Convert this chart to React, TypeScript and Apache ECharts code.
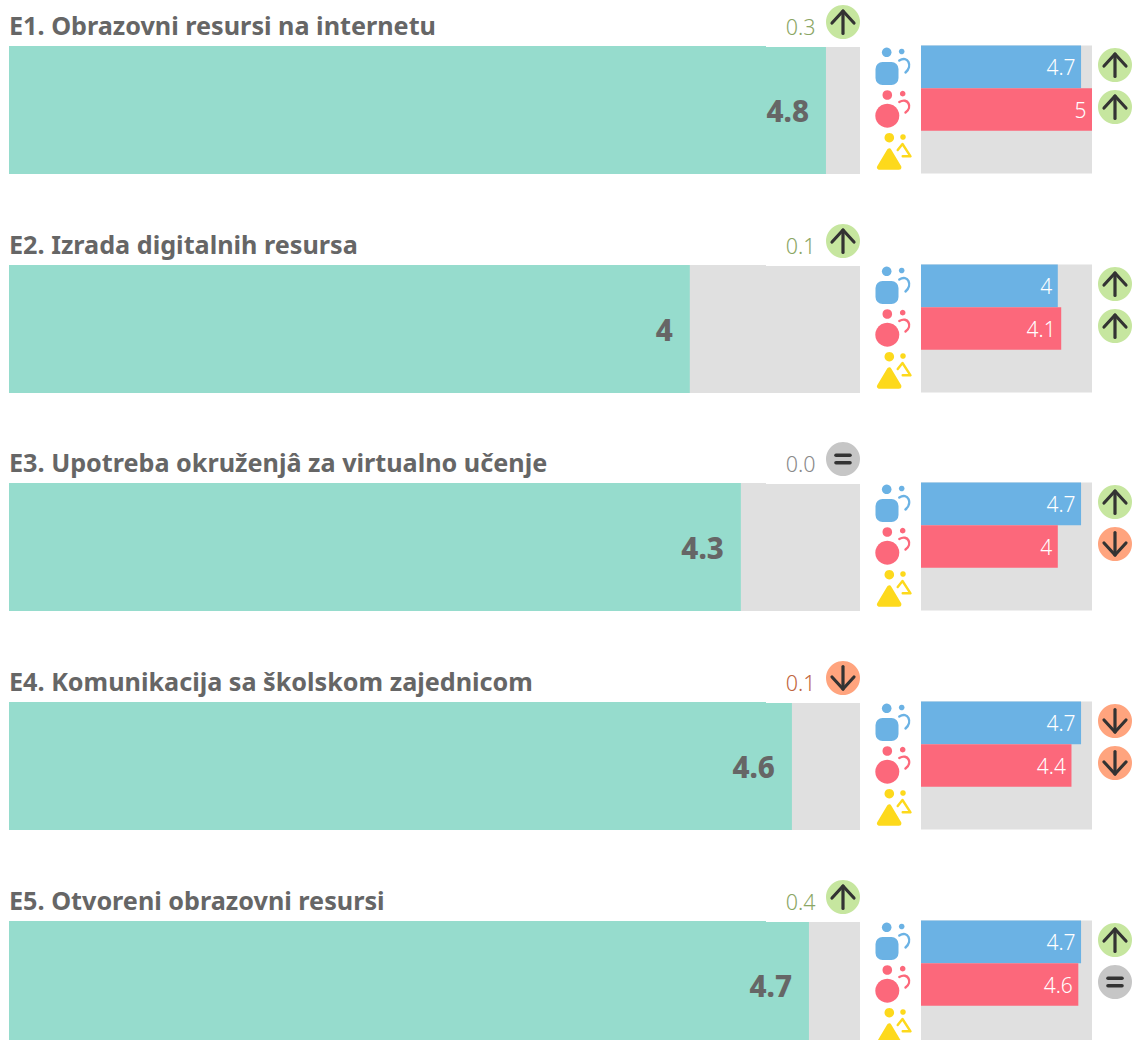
import React, { useEffect, useRef } from "react";
import * as echarts from "echarts";

const titles = [
  "E1. Obrazovni resursi na internetu",
  "E2. Izrada digitalnih resursa",
  "E3. Upotreba okruženjâ za virtualno učenje",
  "E4. Komunikacija sa školskom zajednicom",
  "E5. Otvoreni obrazovni resursi",
];
const overall = [4.8, 4, 4.3, 4.6, 4.7];
const changeLabels = ["0.3", "0.1", "0.0", "0.1", "0.4"];
const overallTrend = ["up", "up", "equal", "down", "up"];
const blueValues = [4.68, 4, 4.68, 4.68, 4.68];
const redValues = [5, 4.1, 4, 4.4, 4.6];
const yellowValues: (number | null)[] = [null, null, null, null, null];
const blueTrend = ["up", "up", "up", "down", "up"];
const redTrend = ["up", "up", "down", "down", "equal"];
const groups = ["blue", "red", "yellow"];
const AXIS_MAX = 5;

const PANEL_TOPS = [46, 265, 483, 702, 921];
const FONT = "'Noto Sans', sans-serif";
const GREY = "#e0e0e0";
const TEAL = "#96dccd";
const BLUE = "#6bb2e4";
const RED = "#fc687b";
const YELLOW = "#fdd91c";
const DARK = "#333333";
const TITLE = "#666666";

const trendFill: Record<string, string> = { up: "#c6e69f", down: "#ffa47e", equal: "#c6c6c6" };
const trendText: Record<string, string> = { up: "#8ba664", down: "#bf6640", equal: "#8a8a8a" };

const shortLabel = (p: any) => (p.value == null ? "" : String(Math.round(p.value * 10) / 10));

function trendIcon(kind: string, x: number, y: number) {
  const line = { stroke: DARK, lineWidth: 3.2, lineCap: "round", lineJoin: "round", fill: "none" };
  let marks: any[];
  if (kind === "up") {
    marks = [
      { type: "line", shape: { x1: 0, y1: 11.5, x2: 0, y2: -11 }, style: line },
      { type: "polyline", shape: { points: [[-11, 1], [0, -11], [11, 1]] }, style: line },
    ];
  } else if (kind === "down") {
    marks = [
      { type: "line", shape: { x1: 0, y1: -11.5, x2: 0, y2: 11 }, style: line },
      { type: "polyline", shape: { points: [[-11, -1], [0, 11], [11, -1]] }, style: line },
    ];
  } else {
    const eq = { ...line, lineWidth: 3.6 };
    marks = [
      { type: "line", shape: { x1: -7, y1: -3.8, x2: 7, y2: -3.8 }, style: eq },
      { type: "line", shape: { x1: -7, y1: 3.8, x2: 7, y2: 3.8 }, style: eq },
    ];
  }
  return {
    type: "group",
    x,
    y,
    children: [{ type: "circle", shape: { cx: 0, cy: 0, r: 17 }, style: { fill: trendFill[kind] } }, ...marks],
  };
}

function peopleIcons(top: number) {
  const s = (c: string) => ({ stroke: c, lineWidth: 2.4, fill: "none", lineCap: "round", lineJoin: "round" });
  return {
    type: "group",
    x: 0,
    y: top - 46,
    children: [
      { type: "circle", shape: { cx: 886.7, cy: 52.3, r: 4.8 }, style: { fill: BLUE } },
      { type: "circle", shape: { cx: 901.7, cy: 51.5, r: 2.8 }, style: { fill: BLUE } },
      { type: "rect", shape: { x: 875.5, y: 62, width: 23, height: 23, r: 7 }, style: { fill: BLUE } },
      { type: "bezierCurve", shape: { x1: 899.3, y1: 60.5, cpx1: 908, cpy1: 55, cpx2: 913, cpy2: 66, x2: 905.5, y2: 72.5 }, style: s(BLUE) },

      { type: "circle", shape: { cx: 887.3, cy: 95, r: 4.8 }, style: { fill: RED } },
      { type: "circle", shape: { cx: 902.7, cy: 93.7, r: 2.8 }, style: { fill: RED } },
      { type: "circle", shape: { cx: 887.3, cy: 115.7, r: 12 }, style: { fill: RED } },
      { type: "bezierCurve", shape: { x1: 899.3, y1: 102, cpx1: 908, cpy1: 97, cpx2: 913, cpy2: 107, x2: 905.5, y2: 112.5 }, style: s(RED) },

      { type: "circle", shape: { cx: 889.3, cy: 137.7, r: 4.8 }, style: { fill: YELLOW } },
      { type: "circle", shape: { cx: 903, cy: 137, r: 2.8 }, style: { fill: YELLOW } },
      {
        type: "polygon",
        shape: { points: [[889.2, 151], [879.5, 167.3], [898.9, 167.3]] },
        style: { fill: YELLOW, stroke: YELLOW, lineWidth: 5, lineJoin: "round" },
      },
      { type: "polyline", shape: { points: [[897.7, 150], [902.5, 144], [910.5, 156.3], [902.7, 156.3]] }, style: s(YELLOW) },
    ],
  };
}

function buildOption() {
  const grid: any[] = [];
  const xAxis: any[] = [];
  const yAxis: any[] = [];
  const series: any[] = [];
  const graphic: any[] = [];

  const addPanel = (left: number, top: number, width: number, height: number, cats: string[], data: any[], label: any) => {
    const i = grid.length;
    grid.push({ left, top, width, height, show: true, backgroundColor: GREY, borderWidth: 0, containLabel: false });
    xAxis.push({ gridIndex: i, type: "value", min: 0, max: AXIS_MAX, show: false });
    yAxis.push({ gridIndex: i, type: "category", data: cats, inverse: true, show: false });
    series.push({
      type: "bar",
      xAxisIndex: i,
      yAxisIndex: i,
      barWidth: "100%",
      barGap: "0%",
      data,
      label,
      silent: true,
    });
  };

  PANEL_TOPS.forEach((top, r) => {
    addPanel(9, top, 851, 128, [titles[r]], [{ value: overall[r], itemStyle: { color: TEAL } }], {
      show: true,
      position: "insideRight",
      distance: 17,
      color: TITLE,
      fontFamily: FONT,
      fontWeight: 800,
      fontSize: 29.5,
    });
    addPanel(
      921,
      top - 0.5,
      171,
      128,
      groups,
      [
        { value: blueValues[r], itemStyle: { color: BLUE } },
        { value: redValues[r], itemStyle: { color: RED } },
        { value: yellowValues[r], itemStyle: { color: YELLOW } },
      ],
      {
        show: true,
        position: "insideRight",
        distance: 5.5,
        color: "#ffffff",
        fontFamily: FONT,
        fontWeight: 300,
        fontSize: 21,
        formatter: shortLabel,
      }
    );

    graphic.push({
      type: "text",
      x: 9,
      y: top - 21,
      style: { text: titles[r], fill: TITLE, font: `700 25.2px ${FONT}`, textVerticalAlign: "middle" },
    });
    graphic.push({
      type: "text",
      x: 815.5,
      y: top - 20,
      style: {
        text: changeLabels[r],
        fill: trendText[overallTrend[r]],
        font: `300 21.5px ${FONT}`,
        textAlign: "right",
        textVerticalAlign: "middle",
      },
    });
    graphic.push(trendIcon(overallTrend[r], 843, top - 24));
    graphic.push(trendIcon(blueTrend[r], 1115, top + 19));
    graphic.push(trendIcon(redTrend[r], 1115, top + 61));
    graphic.push(peopleIcons(top));
    graphic.push({ type: "rect", shape: { x: 766, y: top, width: 94, height: 1 }, style: { fill: "#ffffff" }, z: 10 });
  });

  return { animation: false, backgroundColor: "#ffffff", grid, xAxis, yAxis, series, graphic };
}

export default function App() {
  const ref = useRef<HTMLDivElement>(null);
  useEffect(() => {
    const chart = echarts.init(ref.current!, undefined, { renderer: "svg" });
    chart.setOption(buildOption() as any);
    return () => chart.dispose();
  }, []);
  return (
    <div style={{ position: "fixed", left: 0, top: 0, width: 1132, height: 1040, overflow: "hidden" }}>
      <div ref={ref} style={{ width: 1132, height: 1060 }} />
    </div>
  );
}
